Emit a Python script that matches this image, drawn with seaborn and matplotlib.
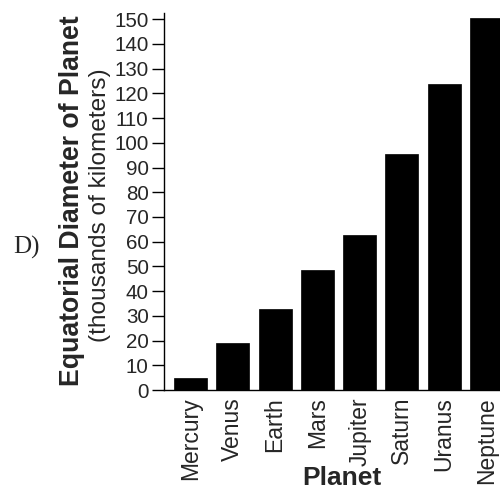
import matplotlib
matplotlib.use("Agg")
import matplotlib.pyplot as plt
import seaborn as sns
import pandas as pd

planets = ["Mercury", "Venus", "Earth", "Mars", "Jupiter", "Saturn", "Uranus", "Neptune"]
diameters = [5.0, 18.9, 32.7, 48.6, 62.6, 95.3, 123.8, 150.3]
y_ticks = list(range(0, 151, 10))

sns.set_theme(style="white")
plt.rcParams["font.family"] = ["Liberation Sans", "DejaVu Sans"]

df = pd.DataFrame({"Planet": planets, "Diameter": diameters})

W, H = 500, 491
fig = plt.figure(figsize=(W / 100, H / 100), dpi=100)
ax_left, ax_right, ax_top, ax_bottom = 164, 513, 13, 390
ax = fig.add_axes([ax_left / W, 1 - ax_bottom / H,
                   (ax_right - ax_left) / W, (ax_bottom - ax_top) / H])

sns.barplot(data=df, x="Planet", y="Diameter", color="black", width=0.78,
            saturation=1, edgecolor="black", linewidth=0.5, ax=ax)

ax.set_xlim(-0.63, 7.63)
ax.set_ylim(0, 152.5)
ax.set_yticks(y_ticks)
ax.set_yticklabels([str(v) for v in y_ticks], fontsize=14.8)
ax.tick_params(axis="y", direction="out", length=8.5, width=1, pad=2.5, color="black", left=True)
ax.tick_params(axis="x", length=0, pad=5, labelsize=16.5, labelrotation=90)
for lab in ax.get_xticklabels():
    lab.set_va("top")
    lab.set_ha("center")

for side in ["top", "right"]:
    ax.spines[side].set_visible(False)
for side in ["left", "bottom"]:
    ax.spines[side].set_color("black")
    ax.spines[side].set_linewidth(1.0)

ax.set_xlabel("")
ax.set_ylabel("")

fig.text(72 / W, 1 - 201 / H, "Equatorial Diameter of Planet", rotation=90,
         ha="center", va="center", fontsize=19.2, fontweight="bold")
fig.text(100 / W, 1 - 205 / H, "(thousands of kilometers)", rotation=90,
         ha="center", va="center", fontsize=17.6)
fig.text(342 / W, 1 - 490 / H, "Planet", ha="center", va="bottom",
         fontsize=19, fontweight="bold")
fig.text(26 / W, 1 - 247 / H, "D)", ha="center", va="center",
         fontsize=18, family=["Liberation Serif", "DejaVu Serif"])

fig.savefig("out.png", dpi=100)
